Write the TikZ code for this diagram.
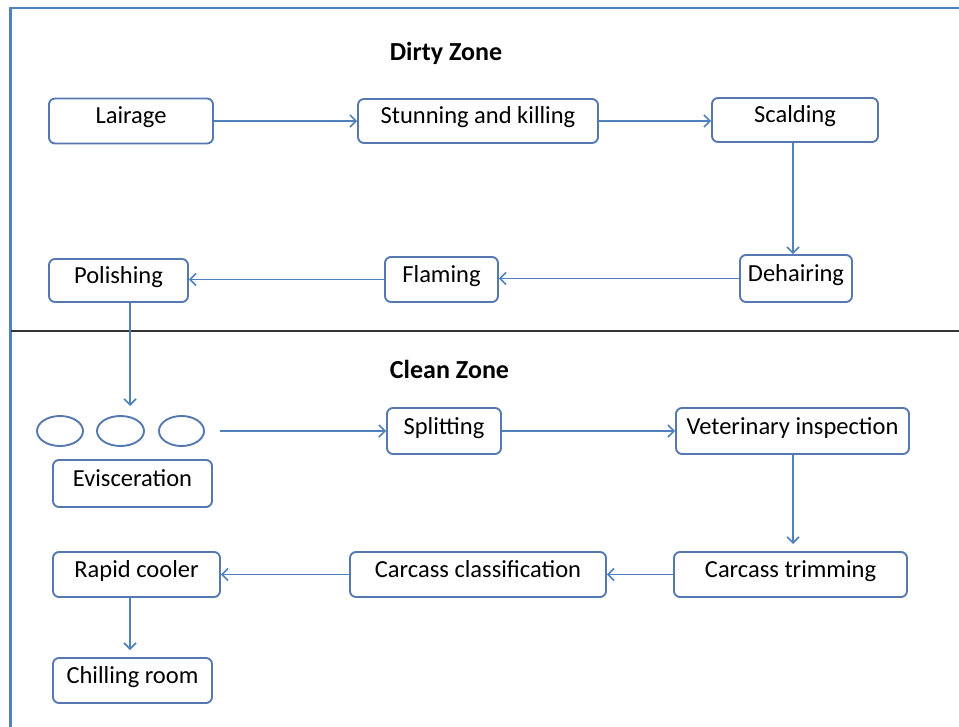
\documentclass[tikz,border=0pt]{standalone}
\usepackage{fontspec}
\setmainfont{Carlito}
\usetikzlibrary{arrows.meta,calc,shapes.geometric}
\definecolor{lineblue}{RGB}{79,129,189}
\definecolor{boxblue}{RGB}{84,120,175}
\begin{document}
\begin{tikzpicture}[x=1pt,y=-1pt,
  stepbox/.style={draw=boxblue,line width=1.9pt,rounded corners=6pt,inner sep=0pt,
    minimum height=45pt,text height=15pt,text depth=9pt,
    font=\fontsize{24.5}{27}\selectfont},
  zonetitle/.style={anchor=base,font=\fontsize{26}{28}\selectfont\bfseries},
  flow/.style={draw=lineblue,line width=1.9pt,-{Straight Barb[length=6pt,width=12pt,line width=1.6pt]}},
  oval/.style={draw=boxblue,line width=1.9pt,ellipse,inner sep=0pt,minimum height=30pt}]
\useasboundingbox (0,0) rectangle (959,727);
% frame and divider
\draw[lineblue,line width=2.4pt] (10.5,727) -- (10.5,8) -- (959,8);
\draw[black!80,line width=2.6pt] (11,331) -- (959,331);
% titles
\node[zonetitle] (dz) at (446,61) {Dirty Zone};
\node[zonetitle] (cz) at (449.5,378) {Clean Zone};
% dirty zone boxes
\node[stepbox,minimum width=164pt,minimum height=45pt] (lair) at (131,121) {Lairage};
\node[stepbox,minimum width=240pt,minimum height=44pt] (stun) at (478,121) {Stunning and killing};
\node[stepbox,minimum width=166pt,minimum height=44pt] (scald) at (795,120) {Scalding};
\node[stepbox,minimum width=112pt,minimum height=47pt] (dehair) at (796,278.5) {Dehairing};
\node[stepbox,minimum width=113pt,minimum height=45pt] (flam) at (441.5,279.5) {Flaming};
\node[stepbox,minimum width=139pt,minimum height=43pt] (pol) at (118.5,280.5) {Polishing};
% clean zone
\node[oval,minimum width=46pt] (e1) at (60,431) {};
\node[oval,minimum width=47pt] (e2) at (120.5,431) {};
\node[oval,minimum width=45pt] (e3) at (181.5,431) {};
\node[stepbox,minimum width=159pt,minimum height=47pt] (evisc) at (132.5,483.5) {Evisceration};
\node[stepbox,minimum width=114pt,minimum height=46pt] (split) at (444,431) {Splitting};
\node[stepbox,minimum width=233pt,minimum height=46pt] (vet) at (792.5,431) {Veterinary inspection};
\node[stepbox,minimum width=233pt,minimum height=45pt] (trim) at (790.5,574.5) {Carcass trimming};
\node[stepbox,minimum width=256pt,minimum height=45pt] (class) at (478,574.5) {Carcass classification};
\node[stepbox,minimum width=167pt,minimum height=45pt] (rapid) at (136.5,574.5) {Rapid cooler};
\node[stepbox,minimum width=159pt,minimum height=45pt] (chill) at (132.5,680.5) {Chilling room};
% free ends
\coordinate (scx) at (793,0);
\coordinate (evtop) at (130,406);
\coordinate (evright) at (220,431);
\coordinate (trimtop) at (793,544);
\coordinate (chtop) at (130,650);
% connectors
\draw[flow] (lair.east) -- (stun.west);
\draw[flow] (stun.east) -- (stun.east -| scald.west);
\draw[flow] (scald.south -| scx) -- (dehair.north -| scx);
\draw[flow] (dehair.west) -- (dehair.west -| flam.east);
\draw[flow] (flam.west) -- (flam.west -| pol.east);
\draw[flow] (pol.south -| evtop) -- (evtop);
\draw[flow] (evright) -- (split.west);
\draw[flow] (split.east) -- (vet.west);
\draw[flow] (vet.south -| trimtop) -- (trimtop);
\draw[flow] (trim.west) -- (class.east);
\draw[flow] (class.west) -- (rapid.east);
\draw[flow] (rapid.south -| chtop) -- (chtop);
\end{tikzpicture}
\end{document}
